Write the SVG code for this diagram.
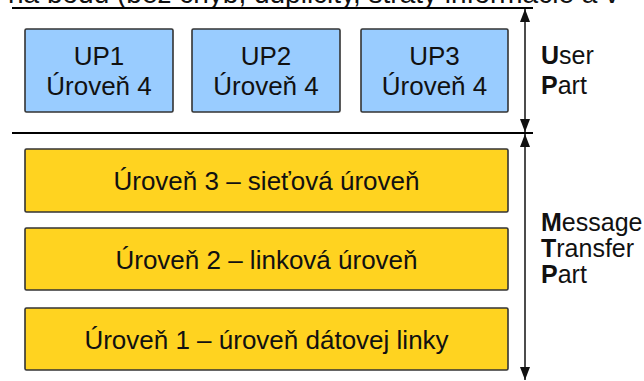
<svg xmlns="http://www.w3.org/2000/svg" width="644" height="381" viewBox="0 0 644 381">
  <style>
    text { font-family: "Liberation Sans", Arial, sans-serif; fill: #111; }
    .up { fill: #99ccff; stroke: #333; stroke-width: 1.6; }
    .mtp { fill: #ffd320; stroke: #333; stroke-width: 1.6; }
    .lbl { font-size: 26px; text-anchor: middle; }
    .side { font-size: 25px; }
    .rule { stroke: #000; stroke-width: 2; }
    .arr { stroke: #111; stroke-width: 1.5; fill: none; marker-start: url(#ah); marker-end: url(#ah); }
  </style>
  <defs>
    <marker id="ah" markerUnits="userSpaceOnUse" markerWidth="13" markerHeight="10" refX="13" refY="5" orient="auto-start-reverse">
      <path d="M0,0 L13,5 L0,10 z" fill="#111"/>
    </marker>
  </defs>
  <rect width="644" height="381" fill="#fff"/>

  <text x="8" y="3" font-size="28">na bodu (bez chýb, duplicity, straty informácie a v</text>

  <g id="connectors">
    <line class="rule" x1="12" y1="8" x2="533" y2="8"/>
    <line class="rule" x1="12" y1="133" x2="533" y2="133"/>
    <line class="arr" x1="525" y1="9" x2="525" y2="132"/>
    <line class="arr" x1="525" y1="134" x2="525" y2="380"/>
  </g>

  <g id="up1">
    <rect class="up" x="25" y="29" width="148" height="83" rx="1.5"/>
    <text class="lbl" x="99" y="65">UP1</text>
    <text class="lbl" x="99" y="95">Úroveň 4</text>
  </g>
  <g id="up2">
    <rect class="up" x="192" y="29" width="148" height="83" rx="1.5"/>
    <text class="lbl" x="266" y="65">UP2</text>
    <text class="lbl" x="266" y="95">Úroveň 4</text>
  </g>
  <g id="up3">
    <rect class="up" x="361" y="29" width="147" height="83" rx="1.5"/>
    <text class="lbl" x="434.5" y="65">UP3</text>
    <text class="lbl" x="434.5" y="95">Úroveň 4</text>
  </g>

  <g id="level3">
    <rect class="mtp" x="25" y="149" width="483" height="63" rx="1.5"/>
    <text class="lbl" x="266.5" y="190">Úroveň 3 – sieťová úroveň</text>
  </g>
  <g id="level2">
    <rect class="mtp" x="25" y="228" width="483" height="62" rx="1.5"/>
    <text class="lbl" x="266.5" y="269">Úroveň 2 – linková úroveň</text>
  </g>
  <g id="level1">
    <rect class="mtp" x="25" y="308" width="483" height="62" rx="1.5"/>
    <text class="lbl" x="266.5" y="349">Úroveň 1 – úroveň dátovej linky</text>
  </g>

  <g id="user-part">
    <text class="side" x="541" y="64"><tspan font-weight="bold">U</tspan>ser</text>
    <text class="side" x="541" y="94"><tspan font-weight="bold">P</tspan>art</text>
  </g>
  <g id="message-transfer-part">
    <text class="side" x="541" y="231"><tspan font-weight="bold">M</tspan>essage</text>
    <text class="side" x="541" y="257"><tspan font-weight="bold">T</tspan>ransfer</text>
    <text class="side" x="541" y="283"><tspan font-weight="bold">P</tspan>art</text>
  </g>
</svg>
